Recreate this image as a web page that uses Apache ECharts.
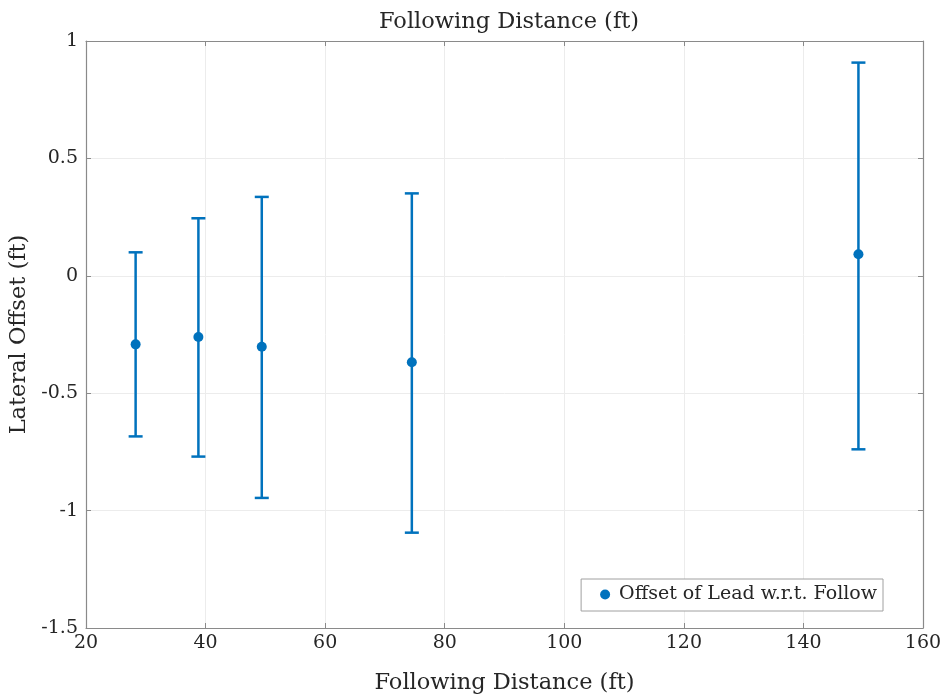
<!DOCTYPE html>
<html>
<head>
<meta charset="utf-8">
<script src="https://cdn.jsdelivr.net/npm/echarts@6/dist/echarts.min.js"></script>
<style>
  html, body { margin: 0; padding: 0; background: #fff; }
  #chart { width: 944px; height: 696px; }
</style>
</head>
<body>
<div id="chart"></div>
<script>
// Following distance (ft) for each test condition
const distances = [28.3, 38.8, 49.4, 74.5, 149.2];
// Mean lateral offset of lead w.r.t. follow (ft)
const meanOffset = [-0.292, -0.261, -0.302, -0.368, 0.092];
// Upper and lower error bar limits (ft)
const upperOffset = [0.100, 0.245, 0.336, 0.351, 0.908];
const lowerOffset = [-0.684, -0.770, -0.946, -1.094, -0.739];

const xTicks = { min: 20, max: 160, interval: 20 };
const yTicks = { min: -1.5, max: 1, interval: 0.5 };

const blue = '#0072BD';
const axisGray = '#8a8a8a';
const gridGray = '#ececec';
const textColor = '#262626';
const fontFamily = '"DejaVu Serif", "Liberation Serif", serif';

const pointData = distances.map((d, i) => [d, meanOffset[i]]);
const barData = distances.map((d, i) => [d, lowerOffset[i], upperOffset[i]]);

const chart = echarts.init(document.getElementById('chart'));

function axisBase(extra) {
  return Object.assign({
    type: 'value',
    axisLine: { show: true, onZero: false, lineStyle: { color: axisGray, width: 1.2 } },
    axisTick: { show: true, inside: true, length: 5, lineStyle: { color: axisGray } },
    splitLine: { show: false },
    axisLabel: { show: false }
  }, extra);
}

chart.setOption({
  animation: false,
  backgroundColor: '#fff',
  textStyle: { fontFamily: fontFamily },
  title: {
    text: 'Following Distance (ft)',
    left: 504, textAlign: 'center', top: 6,
    textStyle: { fontFamily: fontFamily, fontWeight: 'normal', fontSize: 22.5, color: textColor }
  },
  grid: { left: 86, right: 21, top: 41, bottom: 68, containLabel: false, outerBoundsMode: 'none' },
  legend: {
    data: [{ name: 'Offset of Lead w.r.t. Follow', icon: 'circle' }],
    right: 61, top: 579,
    itemWidth: 10, itemHeight: 10, itemGap: 6,
    padding: [6, 6, 7, 19],
    backgroundColor: '#fff',
    borderColor: '#a0a0a0', borderWidth: 1, borderRadius: 0,
    textStyle: { fontFamily: fontFamily, fontSize: 19, color: textColor, padding: [0, 0, 0, 4] }
  },
  xAxis: [
    axisBase({
      min: xTicks.min, max: xTicks.max, interval: xTicks.interval,
      position: 'bottom',
      name: 'Following Distance (ft)', nameLocation: 'middle', nameGap: 44,
      nameTextStyle: { fontFamily: fontFamily, fontSize: 22.5, color: textColor },
      splitLine: { show: true, lineStyle: { color: gridGray, width: 1 } },
      axisLabel: { show: true, fontFamily: fontFamily, fontSize: 19, color: textColor, margin: 6 }
    }),
    axisBase({ min: xTicks.min, max: xTicks.max, interval: xTicks.interval, position: 'top' })
  ],
  yAxis: [
    axisBase({
      min: yTicks.min, max: yTicks.max, interval: yTicks.interval,
      position: 'left',
      name: 'Lateral Offset (ft)', nameLocation: 'middle', nameGap: 46,
      nameTextStyle: { fontFamily: fontFamily, fontSize: 22.5, color: textColor },
      splitLine: { show: true, lineStyle: { color: gridGray, width: 1 } },
      axisLabel: { show: true, fontFamily: fontFamily, fontSize: 19, color: textColor, margin: 8 }
    }),
    axisBase({ min: yTicks.min, max: yTicks.max, interval: yTicks.interval, position: 'right' })
  ],
  series: [
    {
      name: 'errorbars',
      type: 'custom',
      xAxisIndex: 0, yAxisIndex: 0,
      data: barData,
      z: 2,
      renderItem: function (params, api) {
        const x = api.value(0);
        const lo = api.coord([x, api.value(1)]);
        const hi = api.coord([x, api.value(2)]);
        const half = 7;
        const style = { stroke: blue, lineWidth: 2.5, fill: null };
        return {
          type: 'group',
          children: [
            { type: 'line', shape: { x1: hi[0], y1: hi[1], x2: lo[0], y2: lo[1] }, style: style },
            { type: 'line', shape: { x1: hi[0] - half, y1: hi[1], x2: hi[0] + half, y2: hi[1] }, style: style },
            { type: 'line', shape: { x1: lo[0] - half, y1: lo[1], x2: lo[0] + half, y2: lo[1] }, style: style }
          ]
        };
      }
    },
    {
      name: 'Offset of Lead w.r.t. Follow',
      type: 'scatter',
      xAxisIndex: 0, yAxisIndex: 0,
      data: pointData,
      symbol: 'circle',
      symbolSize: 10,
      z: 3,
      itemStyle: { color: blue, opacity: 1 }
    }
  ]
});
</script>
</body>
</html>
